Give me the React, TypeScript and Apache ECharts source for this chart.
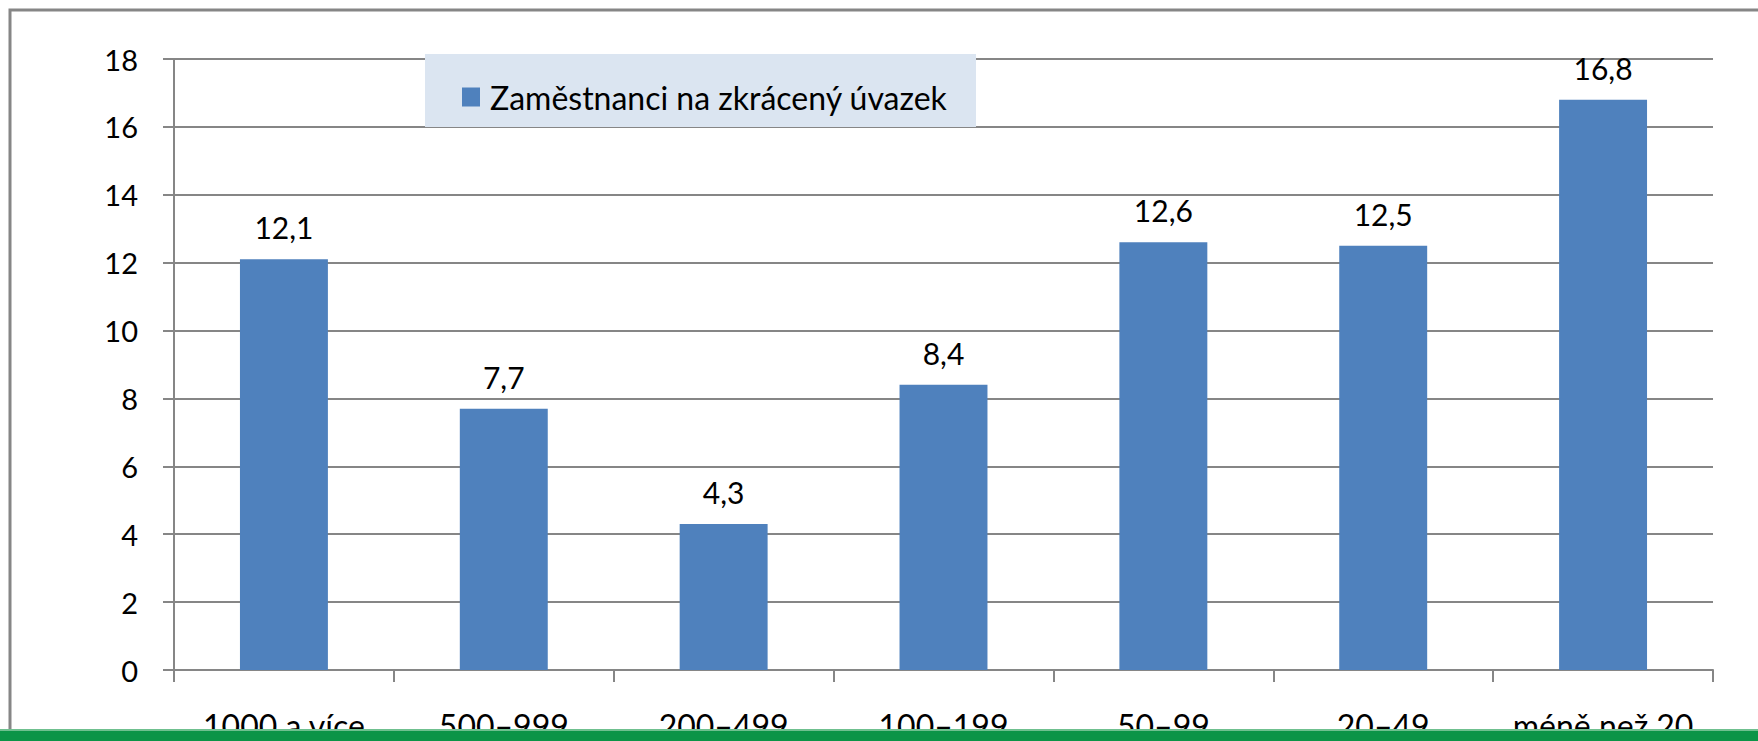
import React, { useEffect, useRef } from "react";
import * as echarts from "echarts";

const categories = ["1000 a více", "500–999", "200–499", "100–199", "50–99", "20–49", "méně než 20"];
const values = [12.1, 7.7, 4.3, 8.4, 12.6, 12.5, 16.8];
const seriesName = "Zaměstnanci na zkrácený úvazek";
const yMin = 0;
const yMax = 18;
const yStep = 2;

const GRAY = "#868686";
const FONT = "Lato";

export default function App() {
  const ref = useRef<HTMLDivElement>(null);
  useEffect(() => {
    if (!ref.current) return;
    const chart = echarts.init(ref.current, undefined, { renderer: "svg" });
    chart.setOption({
      animation: false,
      backgroundColor: "#ffffff",
      textStyle: { fontFamily: FONT },
      grid: { left: 174, top: 59, right: 45, bottom: 70 },
      legend: {
        show: true,
        left: 462,
        top: 81,
        padding: 0,
        itemWidth: 18,
        itemHeight: 19,
        icon: "rect",
        z: 10,
        textStyle: { fontFamily: FONT, fontSize: 32, color: "#000", padding: [0, 0, 0, 5] },
        data: [seriesName],
      },
      xAxis: {
        type: "category",
        data: categories,
        axisLine: { show: true, lineStyle: { color: GRAY, width: 2 } },
        axisTick: { show: true, length: 12, lineStyle: { color: GRAY, width: 2 } },
        axisLabel: { margin: 39, fontFamily: FONT, fontSize: 32, color: "#000", interval: 0 },
        splitLine: { show: false },
      },
      yAxis: {
        type: "value",
        min: yMin,
        max: yMax,
        interval: yStep,
        axisLine: { show: true, lineStyle: { color: GRAY, width: 2 } },
        axisTick: { show: true, length: 11, lineStyle: { color: GRAY, width: 2 } },
        axisLabel: { margin: 36, fontFamily: FONT, fontSize: 29, color: "#000" },
        splitLine: { show: true, lineStyle: { color: GRAY, width: 2 } },
      },
      series: [
        {
          name: seriesName,
          type: "bar",
          data: values,
          barWidth: "40%",
          itemStyle: { color: "#4F81BD" },
          label: {
            show: true,
            position: "top",
            distance: 17,
            fontFamily: FONT,
            fontSize: 30,
            color: "#000",
            formatter: (p: any) => Number(p.value).toFixed(1).replace(".", ","),
          },
        },
      ],
      graphic: [
        {
          type: "rect",
          z: 1,
          shape: { x: 10, y: 10, width: 1800, height: 800 },
          style: { fill: "none", stroke: GRAY, lineWidth: 3 },
          silent: true,
        },
        {
          type: "rect",
          z: 5,
          shape: { x: 425, y: 54, width: 551, height: 73 },
          style: { fill: "#DBE5F1" },
          silent: true,
        },
        {
          type: "rect",
          z: 100,
          shape: { x: 0, y: 729, width: 1758, height: 12 },
          style: { fill: "#0B9447" },
          silent: true,
        },
        {
          type: "rect",
          z: 101,
          shape: { x: 0, y: 729, width: 1758, height: 2 },
          style: { fill: "#6FC08F" },
          silent: true,
        },
      ],
    });
    return () => chart.dispose();
  }, []);
  return (
    <div
      ref={ref}
      style={{ position: "fixed", left: 0, top: 0, width: 1758, height: 741, background: "#fff" }}
    />
  );
}
